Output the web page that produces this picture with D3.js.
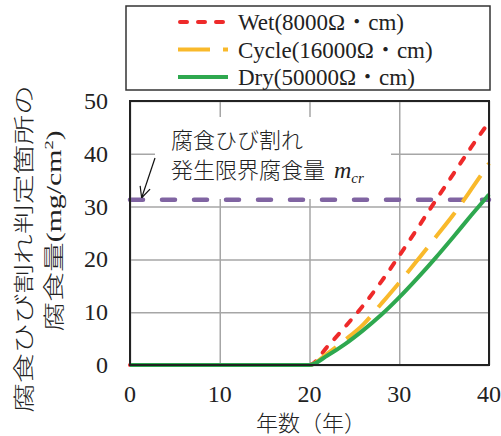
<!DOCTYPE html>
<html>
<head>
<meta charset="utf-8">
<script src="https://cdn.jsdelivr.net/npm/d3@7"></script>
<style>
  body { margin: 0; background: #fff; }
</style>
</head>
<body>
<div id="chart"></div>
<script>
// years and corrosion amounts (mg/cm2)
const years = [0, 20, 22, 24, 26, 28, 30, 32, 34, 36, 38, 40];
const wet   = [0, 0, 3.5, 7.3, 11.3, 15.8, 20.7, 25.8, 31.0, 36.1, 41.2, 46.0];
const cycle = [0, 0, 2.2, 4.8, 7.7, 11.6, 15.6, 19.8, 24.1, 28.4, 33.2, 38.2];
const dry   = [0, 0, 1.8, 4.0, 6.6, 9.5, 12.8, 16.4, 20.2, 24.2, 28.3, 32.3];
const seriesNames = ["Wet(8000Ω", "Cycle(16000Ω", "Dry(50000Ω"];
const mcr = 31.3;
const xTicks = [0, 10, 20, 30, 40];
const yTicks = [0, 10, 20, 30, 40, 50];

const SERIF = "Liberation Serif";
const CJK = "Noto Sans CJK JP";
const INK = "#222";

const margin = { top: 101, right: 12, bottom: 71, left: 130 },
      width = 501 - margin.left - margin.right,
      height = 436 - margin.top - margin.bottom;

const svg = d3.select("#chart").append("svg")
    .attr("width", 501)
    .attr("height", 436);

const g = svg.append("g")
    .attr("transform", "translate(" + margin.left + "," + margin.top + ")");

const x = d3.scaleLinear().domain([0, 40]).range([0, width]);
const y = d3.scaleLinear().domain([0, 50]).range([height, 0]);

// grid
g.append("g")
  .call(d3.axisLeft(y).tickValues(yTicks).tickSize(-width).tickFormat(""))
  .call(s => s.select(".domain").remove())
  .selectAll("line").attr("stroke", "#a6a6a6").attr("stroke-width", 1.5);
g.append("g")
  .attr("transform", "translate(0," + height + ")")
  .call(d3.axisBottom(x).tickValues(xTicks).tickSize(-height).tickFormat(""))
  .call(s => s.select(".domain").remove())
  .selectAll("line").attr("stroke", "#a6a6a6").attr("stroke-width", 1.5);

// white box behind the annotation
g.append("rect")
  .attr("x", 25).attr("y", 16)
  .attr("width", 236).attr("height", 82)
  .attr("fill", "#fff");

// critical corrosion line
g.append("line")
  .attr("x1", x(0)).attr("x2", x(40))
  .attr("y1", y(mcr)).attr("y2", y(mcr))
  .attr("stroke", "#8064a2").attr("stroke-width", 4.5)
  .attr("stroke-dasharray", "13,19").attr("stroke-linecap", "round");

const series = [
  { name: seriesNames[0], values: wet,   color: "#ee2a2a", dash: "7,11",  cap: "round" },
  { name: seriesNames[1], values: cycle, color: "#f9b92b", dash: "32,13", cap: "butt" },
  { name: seriesNames[2], values: dry,   color: "#2ea84f", dash: null,    cap: "butt" }
];

const line = d3.line()
  .x((d, i) => x(years[i]))
  .y(d => y(d))
  .curve(d3.curveMonotoneX);

g.selectAll(".series")
  .data(series)
  .enter().append("path")
    .attr("class", "series")
    .attr("d", d => line(d.values))
    .attr("fill", "none")
    .attr("stroke", d => d.color)
    .attr("stroke-width", 4)
    .attr("stroke-linecap", d => d.cap)
    .attr("stroke-dasharray", d => d.dash);

// plot frame
g.append("rect")
  .attr("width", width).attr("height", height)
  .attr("fill", "none").attr("stroke", INK).attr("stroke-width", 2);

// tick labels
g.selectAll(".ylab")
  .data(yTicks)
  .enter().append("text")
    .attr("x", -22).attr("y", d => y(d) + 8)
    .attr("text-anchor", "end")
    .attr("font-family", SERIF).attr("fill", INK)
    .attr("font-size", 24)
    .text(d => d);
g.selectAll(".xlab")
  .data(xTicks)
  .enter().append("text")
    .attr("x", d => x(d)).attr("y", height + 37)
    .attr("text-anchor", "middle")
    .attr("font-family", SERIF).attr("fill", INK)
    .attr("font-size", 24)
    .text(d => d);

// x title
svg.append("text")
  .attr("x", 311).attr("y", 431)
  .attr("text-anchor", "middle")
  .attr("font-family", CJK).attr("font-weight", 300).attr("fill", INK)
  .attr("font-size", 22)
  .text("年数（年）");

// y title (stretched along the reading direction like the original)
const yt1 = svg.append("g").attr("transform", "translate(31,249) rotate(-90) scale(1.42,1)");
yt1.append("text").attr("text-anchor", "middle").attr("fill", INK)
  .attr("font-family", CJK).attr("font-weight", 300).attr("font-size", 21)
  .text("腐食ひび割れ判定箇所の");
const yt2 = svg.append("g").attr("transform", "translate(61,231) rotate(-90) scale(1.42,1)");
const t2 = yt2.append("text").attr("text-anchor", "middle").attr("font-size", 21).attr("fill", INK);
t2.append("tspan").attr("font-family", CJK).attr("font-weight", 300).text("腐食量");
t2.append("tspan").attr("font-family", SERIF).text("(mg/cm");
t2.append("tspan").attr("font-family", SERIF).attr("dy", -8).attr("font-size", 13).text("2");
t2.append("tspan").attr("font-family", SERIF).attr("dy", 8).text(")");

// annotation
g.append("text").attr("x", 41).attr("y", 47).attr("fill", INK)
  .attr("font-family", CJK).attr("font-weight", 300)
  .attr("font-size", 22).text("腐食ひび割れ");
const ann = g.append("text").attr("x", 41).attr("y", 77).attr("font-size", 22).attr("fill", INK);
ann.append("tspan").attr("font-family", CJK).attr("font-weight", 300).text("発生限界腐食量 ");
ann.append("tspan").attr("font-family", SERIF).attr("dx", 4).attr("font-style", "italic").attr("font-size", 24).text("m");
ann.append("tspan").attr("font-family", SERIF).attr("dy", 5).attr("font-style", "italic").attr("font-size", 15).text("cr");

// arrow to the line
const ax0 = 25, ay0 = 57, ax1 = x(1.3), ay1 = y(mcr) - 2;
g.append("line")
  .attr("x1", ax0).attr("y1", ay0).attr("x2", ax1).attr("y2", ay1)
  .attr("stroke", "#111").attr("stroke-width", 1.2);
const ang = Math.atan2(ay1 - ay0, ax1 - ax0);
[0.45, -0.45].forEach(a => {
  g.append("line")
    .attr("x1", ax1).attr("y1", ay1)
    .attr("x2", ax1 - 12 * Math.cos(ang + a))
    .attr("y2", ay1 - 12 * Math.sin(ang + a))
    .attr("stroke", "#111").attr("stroke-width", 1.2);
});

// legend
svg.append("rect")
  .attr("x", 126).attr("y", 6).attr("width", 364).attr("height", 84)
  .attr("fill", "#fff").attr("stroke", "#333").attr("stroke-width", 1.5);
const leg = svg.selectAll(".leg")
  .data(series)
  .enter().append("g")
    .attr("transform", (d, i) => "translate(178," + (22 + i * 27.5) + ")");
leg.append("line")
  .attr("x1", d => d.cap === "round" ? 2 : 0).attr("x2", 50)
  .attr("stroke", d => d.color).attr("stroke-width", 4)
  .attr("stroke-linecap", d => d.cap)
  .attr("stroke-dasharray", d => d.dash);
const lt = leg.append("text")
  .attr("x", 60).attr("y", 8)
  .attr("font-size", 23).attr("fill", INK);
lt.append("tspan").attr("font-family", SERIF).text(d => d.name);
lt.append("tspan").attr("font-family", CJK).attr("font-weight", 300).text("・");
lt.append("tspan").attr("font-family", SERIF).text("cm)");
</script>
</body>
</html>
